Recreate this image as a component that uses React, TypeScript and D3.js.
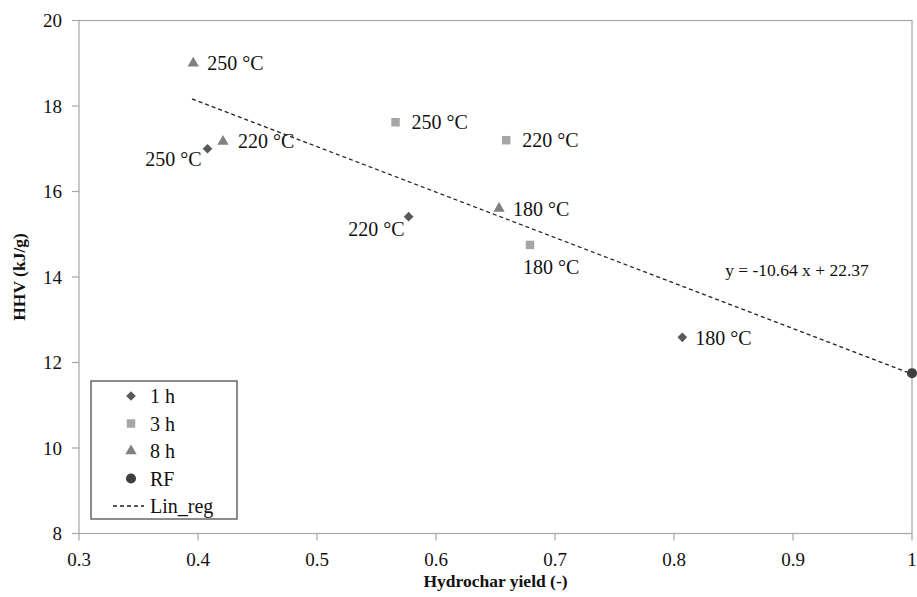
import React, { useEffect } from 'react';
import * as d3 from 'd3';

// hydrochar yield (-) and HHV (kJ/g) per residence time
const temps = ['250 °C', '220 °C', '180 °C'];
const yield1h = [0.408, 0.577, 0.807];
const hhv1h = [17.0, 15.41, 12.59];
const yield3h = [0.566, 0.659, 0.679];
const hhv3h = [17.62, 17.2, 14.75];
const yield8h = [0.396, 0.421, 0.653];
const hhv8h = [19.0, 17.17, 15.6];
const yieldRF = [1.0];
const hhvRF = [11.75];

const regSlope = -10.64;
const regIntercept = 22.37;
const regDomain = [0.395, 1.0];

const xTicks = [0.3, 0.4, 0.5, 0.6, 0.7, 0.8, 0.9, 1];
const yTicks = [8, 10, 12, 14, 16, 18, 20];
const legendNames = ['1 h', '3 h', '8 h', 'RF', 'Lin_reg'];

const W = 917;
const H = 597;
const margin = { top: 20.5, right: 5, bottom: 63.5, left: 79 };
const FONT = "'Liberation Serif', 'Times New Roman', Times, 'DejaVu Serif', serif";

const colors = { d1: '#595959', d3: '#a6a6a6', d8: '#808080', rf: '#404040' };

const App = () => {
  useEffect(() => {
    document.body.style.margin = '0';
  }, []);

  const x = d3.scaleLinear().domain([0.3, 1]).range([margin.left, W - margin.right]);
  const y = d3.scaleLinear().domain([8, 20]).range([H - margin.bottom, margin.top]);

  const diamond = d3.symbol().type(d3.symbolDiamond2).size(60)();
  const square = d3.symbol().type(d3.symbolSquare).size(72)();
  const triangle = d3.symbol().type(d3.symbolTriangle).size(55)();
  const circle = d3.symbol().type(d3.symbolCircle).size(80)();

  const regLine = d3
    .line<number>()
    .x((d) => x(d))
    .y((d) => y(regSlope * d + regIntercept));

  // label placement: [dx, dy, anchor]
  const place1h: [number, number, string][] = [
    [-6, 10, 'end'],
    [-4, 12, 'end'],
    [13, 1, 'start'],
  ];
  const place3h: [number, number, string][] = [
    [16, 0, 'start'],
    [16, 0, 'start'],
    [-7, 22, 'start'],
  ];
  const place8h: [number, number, string][] = [
    [14, 0, 'start'],
    [15, 0, 'start'],
    [14, 0, 'start'],
  ];

  const drawSeries = (
    xs: number[],
    ys: number[],
    path: string | null,
    color: string,
    place: [number, number, string][],
    key: string
  ) =>
    xs.map((v, i) => (
      <g key={key + i}>
        <path d={path || ''} transform={`translate(${x(v)},${y(ys[i])})`} fill={color} />
        <text
          x={x(v) + place[i][0]}
          y={y(ys[i]) + place[i][1]}
          dy="0.35em"
          textAnchor={place[i][2] as any}
          fontSize={20}
          fill="#111"
        >
          {temps[i]}
        </text>
      </g>
    ));

  const legendX = 91;
  const legendY = 381;
  const rowH = 27.5;
  const legendMarkers = [diamond, square, triangle, circle];
  const legendColors = [colors.d1, colors.d3, colors.d8, colors.rf];

  return (
    <svg width={W} height={H} style={{ display: 'block', background: '#fff' }} fontFamily={FONT}>
      {/* plot frame */}
      <rect
        x={x(0.3)}
        y={y(20)}
        width={x(1) - x(0.3)}
        height={y(8) - y(20)}
        fill="none"
        stroke="#a6a6a6"
        strokeWidth={1.2}
      />
      {/* y ticks */}
      {yTicks.map((t) => (
        <g key={'yt' + t}>
          <line x1={x(0.3) - 7} x2={x(0.3)} y1={y(t)} y2={y(t)} stroke="#a6a6a6" strokeWidth={1.2} />
          <text x={x(0.3) - 17} y={y(t)} dy="0.35em" textAnchor="end" fontSize={19} fill="#111">
            {t}
          </text>
        </g>
      ))}
      {/* x ticks */}
      {xTicks.map((t) => (
        <g key={'xt' + t}>
          <line x1={x(t)} x2={x(t)} y1={y(8)} y2={y(8) + 7} stroke="#a6a6a6" strokeWidth={1.2} />
          <text x={x(t)} y={y(8) + 26} dy="0.35em" textAnchor="middle" fontSize={19} fill="#111">
            {d3.format('~g')(t)}
          </text>
        </g>
      ))}
      {/* axis titles */}
      <text
        x={(x(0.3) + x(1)) / 2}
        y={H - 10}
        textAnchor="middle"
        fontSize={17.5}
        fontWeight="bold"
        fill="#111"
      >
        Hydrochar yield (-)
      </text>
      <text
        transform={`translate(19,${(y(8) + y(20)) / 2}) rotate(-90)`}
        textAnchor="middle"
        dy="0.35em"
        fontSize={17.5}
        fontWeight="bold"
        fill="#111"
      >
        HHV (kJ/g)
      </text>

      {/* regression */}
      <path
        d={regLine(regDomain) || ''}
        fill="none"
        stroke="#222"
        strokeWidth={1.3}
        strokeDasharray="4,3"
      />
      <text x={x(0.843)} y={y(14.17)} dy="0.35em" fontSize={17.5} fill="#111">
        y = -10.64 x + 22.37
      </text>

      {drawSeries(yield1h, hhv1h, diamond, colors.d1, place1h, 'a')}
      {drawSeries(yield3h, hhv3h, square, colors.d3, place3h, 'b')}
      {drawSeries(yield8h, hhv8h, triangle, colors.d8, place8h, 'c')}
      {yieldRF.map((v, i) => (
        <path key={'rf' + i} d={circle || ''} transform={`translate(${x(v)},${y(hhvRF[i])})`} fill={colors.rf} />
      ))}

      {/* legend */}
      <rect x={legendX} y={legendY} width={146} height={138} fill="#fff" stroke="#404040" strokeWidth={1.2} />
      {legendNames.map((name, i) => {
        const cy = legendY + 15 + i * rowH;
        return (
          <g key={'lg' + i}>
            {i < 4 ? (
              <path d={legendMarkers[i] || ''} transform={`translate(131,${cy})`} fill={legendColors[i]} />
            ) : (
              <line x1={113} x2={144} y1={cy} y2={cy} stroke="#222" strokeWidth={1.3} strokeDasharray="4,3" />
            )}
            <text x={150} y={cy} dy="0.35em" fontSize={20} fill="#111">
              {name}
            </text>
          </g>
        );
      })}
    </svg>
  );
};

export default App;
